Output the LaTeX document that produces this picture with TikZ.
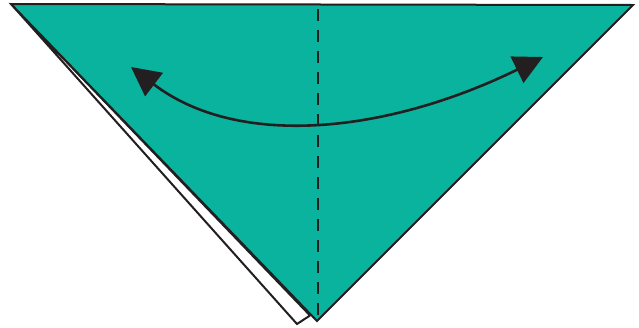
\documentclass[tikz,border=0pt]{standalone}
\usetikzlibrary{arrows.meta}
\definecolor{teal}{RGB}{9,179,158}
\definecolor{ink}{RGB}{35,31,32}
\tikzset{
  paper/.style={line width=2pt, draw=ink, line join=miter},
  fold/.style={line width=2.8pt, draw=ink, dash pattern=on 12pt off 9pt},
  swing/.style={line width=2.6pt, draw=ink, {Triangle[length=29pt,width=29pt]}-{Triangle[length=29pt,width=29pt]}}
}
\begin{document}
\begin{tikzpicture}[x=1pt,y=-1pt]
\useasboundingbox (0,0) rectangle (639,327);
\coordinate (tl) at (11,4);
\coordinate (tr) at (633,5);
\coordinate (ap) at (317,321);
\coordinate (fb) at (297,324);
\coordinate (fr) at (310,315.5);
% back flap
\filldraw[paper, fill=white] (tl) -- (fb) -- (fr) -- cycle;
% front triangle
\filldraw[paper, fill=teal] (tl) -- (tr) -- (ap) -- cycle;
% fold line
\coordinate (dtop) at (318,9);
\coordinate (dbot) at (318,321);
\draw[fold] (dtop) -- (dbot);
% arrow
\coordinate (al) at (131,67);
\coordinate (ar) at (543,57);
\draw[swing] (al) .. controls (240,150) and (390,132) .. (ar);
\end{tikzpicture}
\end{document}
